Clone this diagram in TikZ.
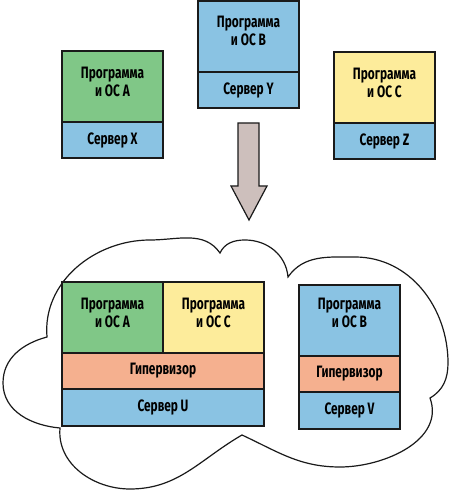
\documentclass[tikz,border=0pt]{standalone}
\usepackage{fontspec}
\newfontfamily\lblfont{Fira Sans}[FakeStretch=0.72]
\usepackage{xcolor}
\usetikzlibrary{positioning}
\definecolor{appgreen}{HTML}{80C787}
\definecolor{srvblue}{HTML}{8AC3E3}
\definecolor{appyellow}{HTML}{FDEC9B}
\definecolor{hypsalmon}{HTML}{F5B08F}
\definecolor{arrowgray}{HTML}{CDBFBC}
\definecolor{edge}{HTML}{1A1A1A}

\begin{document}
\begin{tikzpicture}[x=1pt,y=1pt,line width=1.2pt,
  every node/.style={font=\lblfont\bfseries\fontsize{16.5}{18}\selectfont},
  cell/.style={draw=edge,minimum width=101pt,inner sep=0pt,outer sep=0pt,anchor=north west},
  prog/.style={cell,minimum height=71pt},
  srv/.style={cell,fill=srvblue,minimum height=36pt},
  txt/.style={align=center,inner sep=0pt}]
\useasboundingbox (0,0) rectangle (450,492);
% cloud
\draw[edge,fill=white] (47,155) to[out=95,in=180] (150,252) to[out=0,in=125] (220,239)
  to[out=65,in=180] (245,252) to[out=0,in=95] (288,215)
  to[out=55,in=180] (355,235) to[out=0,in=90] (448,129) to[out=-90,in=30] (430,94)
  to[out=-70,in=0] (340,25) to[out=180,in=-25] (242,57)
  to[out=-150,in=0] (130,3) to[out=180,in=-95] (60,64)
  to[out=175,in=-90] (3,109) to[out=90,in=195] cycle;
% before
\node[prog,fill=appgreen] (progA) at (62,441) {};
\node[srv,below=0pt of progA] (srvX) {};
\node[prog,fill=srvblue] (progB) at (198,491) {};
\node[srv,below=0pt of progB] (srvY) {};
\node[prog,fill=appyellow] (progC) at (334,440) {};
\node[srv,below=0pt of progC] (srvZ) {};
\node[txt] at ([yshift=5pt]progA.center) {Программа\\и ОС A};
\node[txt] at ([yshift=6pt]progB.center) {Программа\\и ОС B};
\node[txt] at ([yshift=5pt]progC.center) {Программа\\и ОС C};
\node[txt] at (srvX.center) {Сервер X};
\node[txt] at (srvY.center) {Сервер Y};
\node[txt] at (srvZ.center) {Сервер Z};
% arrow
\draw[edge,fill=arrowgray] (238,369) -- (259,369) -- (259,306) -- (267,306) -- (249,272)
  -- (231,306) -- (238,306) -- cycle;
% after
\node[prog,fill=appgreen] (vmA) at (62,210) {};
\node[prog,fill=appyellow,right=0pt of vmA] (vmC) {};
\node[cell,fill=hypsalmon,minimum width=202pt,minimum height=36pt,below=0pt of vmA.south west,anchor=north west] (hypU) {};
\node[cell,fill=srvblue,minimum width=202pt,minimum height=37pt,below=0pt of hypU.south west,anchor=north west] (srvU) {};
\node[prog,fill=srvblue] (vmB) at (299,207) {};
\node[cell,fill=hypsalmon,minimum height=36pt,below=0pt of vmB] (hypV) {};
\node[srv,minimum height=37pt,below=0pt of hypV] (srvV) {};
\node[txt] at ([yshift=5pt]vmA.center) {Программа\\и ОС A};
\node[txt] at ([yshift=5pt]vmC.center) {Программа\\и ОС C};
\node[txt] at ([yshift=8pt]vmB.center) {Программа\\и ОС B};
\node[txt] at (hypU.center) {Гипервизор};
\node[txt] at (srvU.center) {Сервер U};
\node[txt] at (hypV.center) {Гипервизор};
\node[txt] at (srvV.center) {Сервер V};
\end{tikzpicture}
\end{document}
